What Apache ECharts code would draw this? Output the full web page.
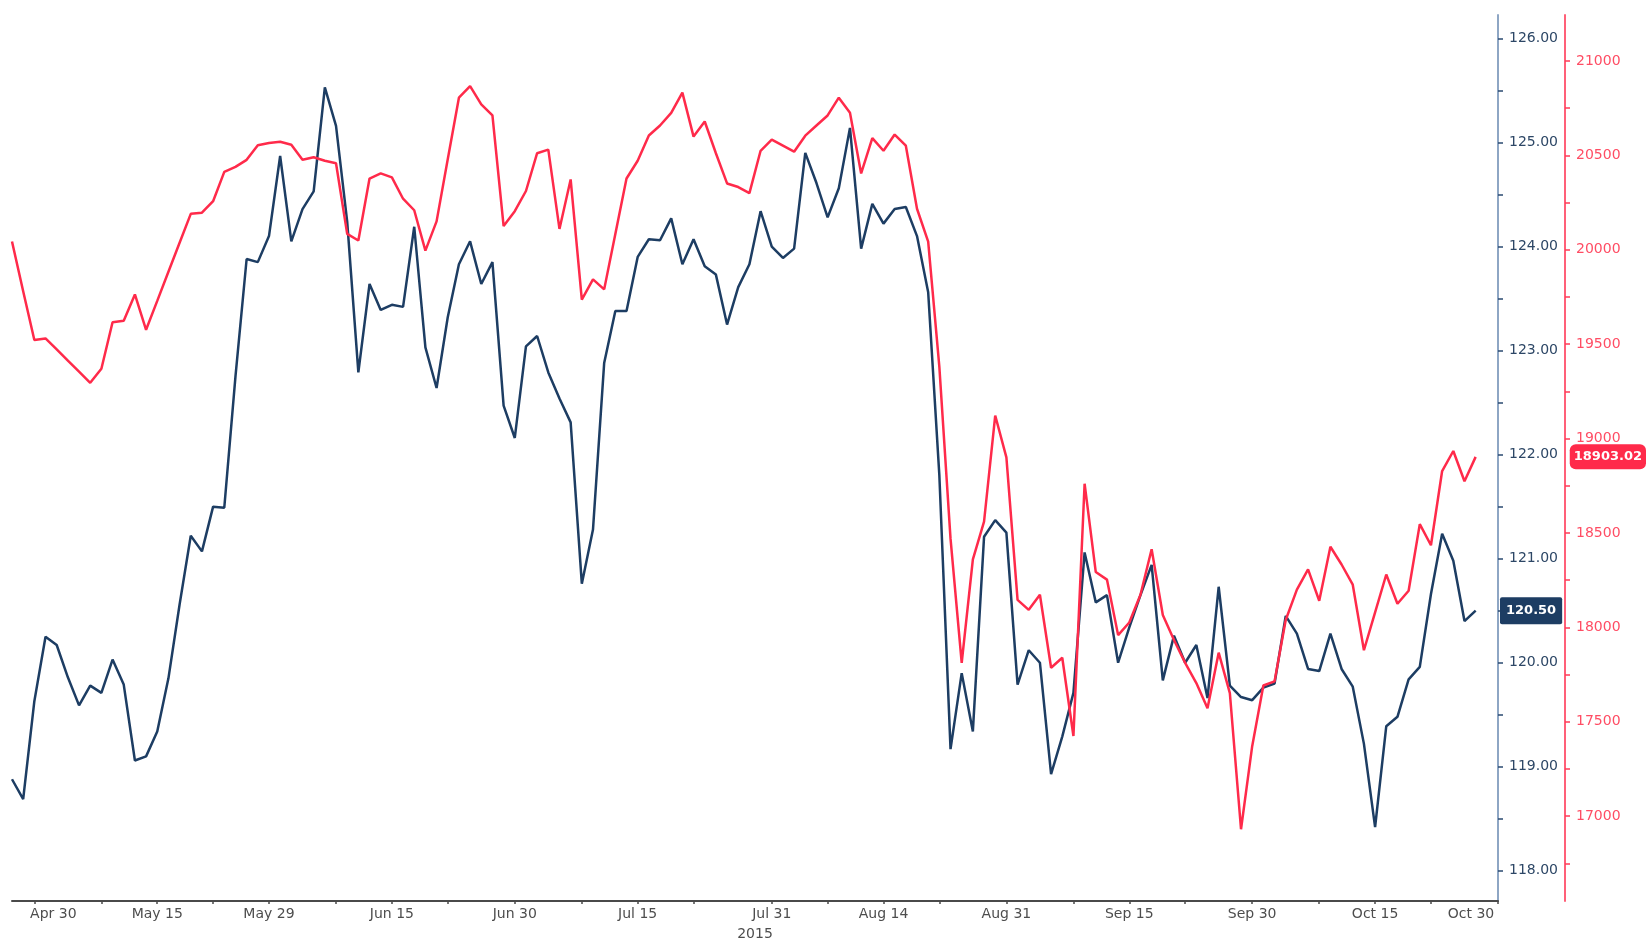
<!DOCTYPE html>
<html>
<head>
<meta charset="utf-8">
<script src="https://cdn.jsdelivr.net/npm/echarts@6/dist/echarts.min.js"></script>
<style>
html,body{margin:0;padding:0;background:#fff;}
#chart{width:1646px;height:946px;}
</style>
</head>
<body>
<div id="chart"></div>
<script>
// ---- Categories: weekdays, 28 Apr 2015 .. 30 Oct 2015 ----
const MONTHS = ['Jan','Feb','Mar','Apr','May','Jun','Jul','Aug','Sep','Oct','Nov','Dec'];
const categories = [];
(function () {
  const d = new Date(Date.UTC(2015, 3, 28));
  const end = new Date(Date.UTC(2015, 9, 30));
  while (d <= end) {
    const wd = d.getUTCDay();
    if (wd !== 0 && wd !== 6) categories.push(MONTHS[d.getUTCMonth()] + ' ' + d.getUTCDate());
    d.setUTCDate(d.getUTCDate() + 1);
  }
})();

// ---- Tick labels ----
const xLabelDates = ['Apr 30','May 15','May 29','Jun 15','Jun 30','Jul 15','Jul 31','Aug 14','Aug 31','Sep 15','Sep 30','Oct 15','Oct 30'];
const xMinorTickDates = ['May 8','May 22','Jun 8','Jun 22','Jul 8','Jul 22','Aug 7','Aug 21','Sep 8','Sep 22','Oct 8','Oct 22'];
const xYearLabel = '2015';
const blueLabelValues = [118,119,120,121,122,123,124,125,126];
const blueTickValues = [118,118.5,119,119.5,120,120.5,121,121.5,122,122.5,123,123.5,124,124.5,125,125.5,126];
const redLabelValues = [17000,17500,18000,18500,19000,19500,20000,20500,21000];
const redTickValues = [16750,17000,17250,17500,17750,18000,18250,18500,18750,19000,19250,19500,19750,20000,20250,20500,20750,21000];

// ---- Series values ----
const blueValues = [
  118.88,118.69,119.63,120.25,120.17,119.86,119.59,119.78,119.71,120.03,
  119.79,119.06,119.10,119.34,119.85,120.56,121.22,121.07,121.50,121.49,
  122.75,123.88,123.85,124.10,124.87,124.05,124.36,124.53,125.53,125.16,
  124.24,122.79,123.64,123.39,123.44,123.42,124.19,123.03,122.64,123.32,
  123.83,124.05,123.64,123.85,122.47,122.16,123.04,123.14,122.79,122.54,
  122.31,120.76,121.28,122.88,123.38,123.38,123.90,124.07,124.06,124.27,
  123.83,124.07,123.81,123.73,123.25,123.61,123.83,124.34,124.00,123.89,
  123.98,124.90,124.61,124.28,124.56,125.14,123.98,124.41,124.22,124.36,
  124.38,124.10,123.56,121.80,119.17,119.90,119.34,121.21,121.37,121.25,
  119.79,120.12,120.00,118.93,119.29,119.71,121.06,120.58,120.65,120.00,
  120.34,120.65,120.94,119.83,120.26,120.00,120.17,119.66,120.73,119.78,
  119.67,119.64,119.76,119.80,120.45,120.28,119.94,119.92,120.28,119.94,
  119.77,119.22,118.42,119.39,119.48,119.84,119.96,120.66,121.24,120.98,
  120.40,120.50
];
const redValues = [
  20043,19780,19522,19530,19472,19413,19354,19295,19370,19616,
  19624,19763,19576,19729,19883,20037,20190,20196,20257,20412,
  20439,20476,20553,20565,20572,20556,20476,20490,20471,20458,
  20084,20049,20377,20404,20383,20270,20209,19995,20150,20479,
  20805,20866,20770,20711,20125,20204,20311,20511,20530,20110,
  20372,19736,19843,19790,20083,20377,20471,20605,20658,20725,
  20832,20599,20679,20511,20351,20332,20300,20524,20583,20551,
  20519,20604,20658,20711,20805,20725,20404,20591,20524,20610,
  20551,20217,20043,19380,18470,17812,18360,18560,19122,18900,
  18146,18093,18173,17786,17839,17425,18761,18293,18253,17959,
  18026,18173,18414,18066,17933,17812,17705,17572,17866,17652,
  16931,17371,17692,17714,18039,18200,18307,18141,18427,18333,
  18226,17879,18080,18280,18125,18194,18547,18435,18828,18934,
  18774,18903.02
];
const blueLast = blueValues[blueValues.length - 1];
const redLast = redValues[redValues.length - 1];

// ---- Styling ----
const FONT = 'DejaVu Sans';
const BLUE = '#1d3d63';
const RED = '#ff2a4a';
const labelSet = new Set(xLabelDates);
const tickSet = new Set(xLabelDates.concat(xMinorTickDates));

const chart = echarts.init(document.getElementById('chart'), null, {renderer: 'canvas'});
chart.setOption({
  animation: false,
  backgroundColor: '#ffffff',
  grid: {left: 12, right: 148, top: 15, bottom: 42, containLabel: false},
  xAxis: {
    type: 'category',
    data: categories,
    boundaryGap: false,
    axisLine: {show: true, lineStyle: {color: '#4a4a4a', width: 2}},
    axisTick: {show: true, interval: (i, v) => tickSet.has(v), length: 3, lineStyle: {color: '#4a4a4a', width: 1.5}},
    axisLabel: {
      interval: (i, v) => labelSet.has(v),
      margin: 6,
      color: '#4d4d4d', fontFamily: FONT, fontSize: 14,
      formatter: function (v) {
        if (v === xLabelDates[0]) return '{a|' + v + '}';
        if (v === xLabelDates[xLabelDates.length - 1]) return '{b|' + v + '}';
        return v;
      },
      rich: {
        a: {padding: [0, 0, 0, 38], color: '#4d4d4d', fontFamily: FONT, fontSize: 14},
        b: {padding: [0, 54, 0, 0], color: '#4d4d4d', fontFamily: FONT, fontSize: 14}
      }
    },
    splitLine: {show: false},
    name: xYearLabel,
    nameLocation: 'middle',
    nameGap: 26,
    nameTextStyle: {color: '#4d4d4d', fontFamily: FONT, fontSize: 14}
  },
  yAxis: [
    {
      type: 'value',
      position: 'right',
      min: 117.71,
      max: 126.225,
      axisLine: {show: true, lineStyle: {color: '#8ea6c4', width: 2}},
      axisTick: {show: true, customValues: blueTickValues, length: 5, lineStyle: {color: '#2a4a70', width: 1.5}},
      axisLabel: {customValues: blueLabelValues, formatter: v => Number(v).toFixed(2), color: '#2d4766', fontFamily: FONT, fontSize: 14, margin: 11},
      splitLine: {show: false},
      axisPointer: {
        show: true, value: blueLast, status: 'show', triggerTooltip: false, snap: false,
        lineStyle: {opacity: 0, width: 0},
        label: {show: true, formatter: p => Number(p.value).toFixed(2), backgroundColor: BLUE, color: '#ffffff',
          fontFamily: FONT, fontSize: 13, fontWeight: 'bold', padding: [7, 6, 7, 6], margin: 2, borderRadius: 2}
      }
    },
    {
      type: 'value',
      position: 'right',
      offset: 67,
      min: 16551,
      max: 21243,
      axisLine: {show: true, lineStyle: {color: '#ff6078', width: 2}},
      axisTick: {show: true, customValues: redTickValues, length: 5, lineStyle: {color: '#ff3d58', width: 1.5}},
      axisLabel: {customValues: redLabelValues, formatter: v => String(Math.round(v)), color: '#ff4d64', fontFamily: FONT, fontSize: 14, margin: 11},
      splitLine: {show: false},
      axisPointer: {
        show: true, value: redLast, status: 'show', triggerTooltip: false, snap: false,
        lineStyle: {opacity: 0, width: 0},
        label: {show: true, formatter: p => Number(p.value).toFixed(2), backgroundColor: RED, color: '#ffffff',
          fontFamily: FONT, fontSize: 13, fontWeight: 'bold', padding: [6, 4, 6, 4], margin: 5, borderRadius: 6}
      }
    }
  ],
  series: [
    {
      name: 'Blue', type: 'line', yAxisIndex: 0, data: blueValues,
      showSymbol: false, symbol: 'none', smooth: false,
      lineStyle: {color: BLUE, width: 2.5}, itemStyle: {color: BLUE}, z: 2
    },
    {
      name: 'Red', type: 'line', yAxisIndex: 1, data: redValues,
      showSymbol: false, symbol: 'none', smooth: false,
      lineStyle: {color: RED, width: 2.5}, itemStyle: {color: RED}, z: 3
    }
  ]
});
</script>
</body>
</html>
